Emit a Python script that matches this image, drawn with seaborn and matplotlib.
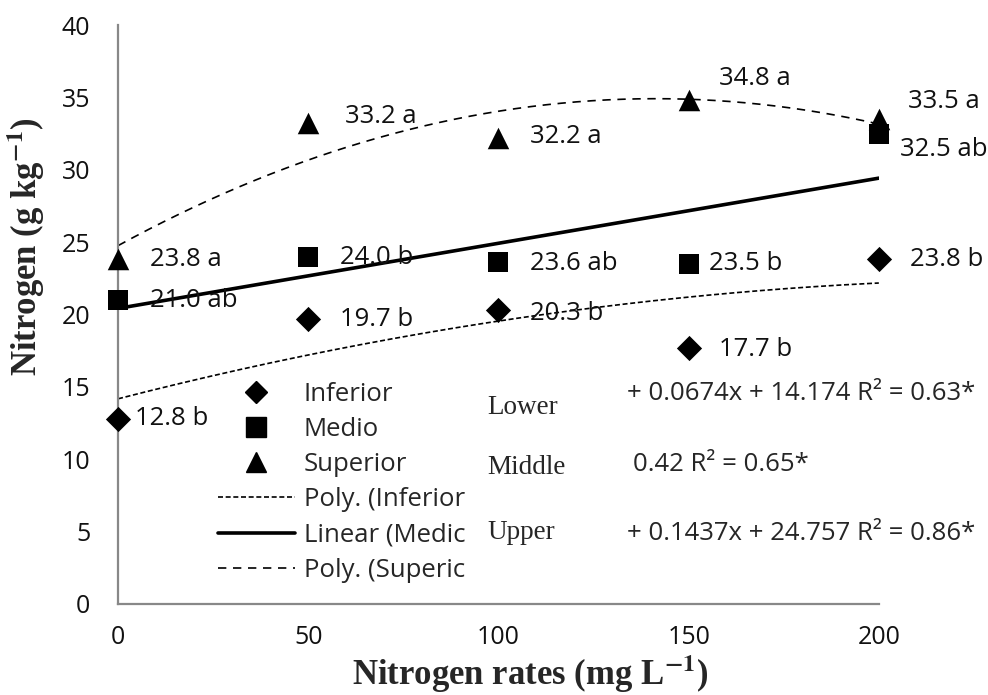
import matplotlib
matplotlib.use("Agg")
import matplotlib.pyplot as plt
from matplotlib.lines import Line2D
import numpy as np
import pandas as pd
import seaborn as sns

# data
rates = [0, 50, 100, 150, 200]
inferior = [12.8, 19.7, 20.3, 17.7, 23.8]
medio = [21.0, 24.0, 23.6, 23.5, 32.5]
superior = [23.8, 33.2, 32.2, 34.8, 33.5]
inferior_letters = ["b", "b", "b", "b", "b"]
medio_letters = ["ab", "b", "ab", "b", "ab"]
superior_letters = ["a", "a", "a", "a", "a"]

eq_names = ["Lower", "Middle", "Upper"]
eq_texts = ["+ 0.0674x + 14.174 R\u00b2 = 0.63*",
            "0.42 R\u00b2 = 0.65*",
            "+ 0.1437x + 24.757 R\u00b2 = 0.86*"]

# label offsets in pixels (dx, dy) relative to each point
inf_off = [(17, 0), (32, -1), (32, -3), (30, -2), (31, 0)]
med_off = [(32, 0), (32, -1), (32, -1), (20, 0), (21, -16)]
sup_off = [(32, 0), (37, 7), (32, 1), (30, 22), (29, 18)]
# equation text positions (axes fraction)
name_pos = [(0.485, 0.340), (0.485, 0.236), (0.485, 0.124)]
eq_pos = [(0.669, 0.363), (0.677, 0.241), (0.669, 0.122)]

plt.rcParams["figure.dpi"] = 100
sns.set_theme(style="white")
plt.rcParams["font.family"] = ["Open Sans", "DejaVu Sans"]
plt.rcParams["mathtext.fontset"] = "stix"

fig = plt.figure(figsize=(9.88, 6.95))
ax = fig.add_axes([0.1195, 0.131, 0.770, 0.833])

df = pd.DataFrame({"x": rates * 3,
                   "y": inferior + medio + superior,
                   "grp": ["Inferior"] * 5 + ["Medio"] * 5 + ["Superior"] * 5})

for grp, mk, s in [("Inferior", "D", 165), ("Medio", "s", 225), ("Superior", "^", 240)]:
    sns.scatterplot(data=df[df.grp == grp], x="x", y="y", marker=mk, s=s,
                    color="black", edgecolor="black", linewidth=0, ax=ax,
                    zorder=3, clip_on=False)

# trend lines (least squares, as in the original spreadsheet)
xs = np.linspace(0, 200, 200)
p_inf = np.polyfit(rates, inferior, 2)
p_med = np.polyfit(rates, medio, 1)
p_sup = np.polyfit(rates, superior, 2)
sns.lineplot(x=xs, y=np.polyval(p_inf, xs), color="black", lw=1.2, ax=ax,
             linestyle=(0, (3, 1.6)))
sns.lineplot(x=xs, y=np.polyval(p_med, xs), color="black", lw=2.6, ax=ax)
sns.lineplot(x=xs, y=np.polyval(p_sup, xs), color="black", lw=1.2, ax=ax,
             linestyle=(0, (5, 4)))

px = 72 / 100  # points per pixel
for vals, lets, offs in [(inferior, inferior_letters, inf_off),
                         (medio, medio_letters, med_off),
                         (superior, superior_letters, sup_off)]:
    for x, v, l, (dx, dy) in zip(rates, vals, lets, offs):
        ax.annotate(f"{v:.1f} {l}", (x, v), xytext=(dx * px, dy * px),
                    textcoords="offset points", ha="left", va="center",
                    fontsize=18.5, color="#111111", zorder=4)

ax.set_xlim(0, 200)
ax.set_ylim(0, 40)
ax.set_xticks(rates)
ax.set_yticks(range(0, 41, 5))
ax.tick_params(axis="both", labelsize=18, colors="#111111", length=7, width=1.3,
               color="#888888", direction="out")
ax.tick_params(axis="x", pad=8)
ax.tick_params(axis="y", pad=13)
for side in ["top", "right"]:
    ax.spines[side].set_visible(False)
for side in ["left", "bottom"]:
    ax.spines[side].set_color("#888888")
    ax.spines[side].set_linewidth(1.6)

ax.set_xlabel(r"Nitrogen rates (mg L$^{\mathbf{-1}}$)", fontsize=25, fontweight="bold",
              family="Liberation Serif")
ax.set_ylabel(r"Nitrogen (g kg$^{\mathbf{-1}}$)", fontsize=25, fontweight="bold",
              family="Liberation Serif")
ax.xaxis.set_label_coords(0.541, -0.085)
ax.yaxis.set_label_coords(-0.093, 0.618)

handles = [
    Line2D([], [], marker="D", color="black", ls="none", ms=11),
    Line2D([], [], marker="s", color="black", ls="none", ms=14),
    Line2D([], [], marker="^", color="black", ls="none", ms=14),
    Line2D([], [], color="black", lw=1.2, ls=(0, (3, 1.6))),
    Line2D([], [], color="black", lw=2.6),
    Line2D([], [], color="black", lw=1.2, ls=(0, (5, 4))),
]
labels = ["Inferior", "Medio", "Superior", "Poly. (Inferior", "Linear (Medic", "Poly. (Superic"]
ax.legend(handles, labels, loc="upper left", bbox_to_anchor=(0.131, 0.384),
          frameon=False, fontsize=18.5, handlelength=3.0, handletextpad=0.35,
          labelspacing=0.40, borderaxespad=0, borderpad=0)

for name, eq, (nx, ny), (ex, ey) in zip(eq_names, eq_texts, name_pos, eq_pos):
    ax.text(nx, ny, name, transform=ax.transAxes, fontsize=19.5,
            family="Liberation Serif", va="center", ha="left")
    ax.text(ex, ey, eq, transform=ax.transAxes, fontsize=18.5, va="center", ha="left")

fig.savefig("out.png", dpi=100)
